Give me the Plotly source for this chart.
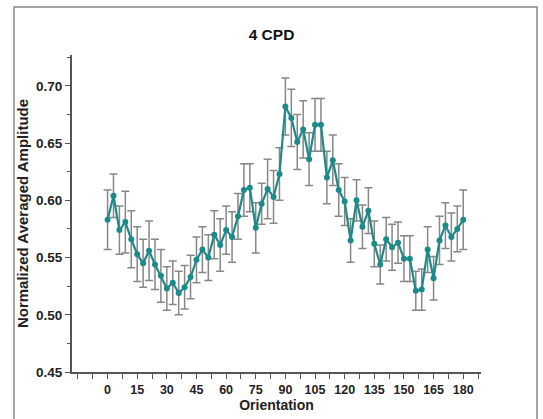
import plotly.graph_objects as go

orientation = [0, 3, 6, 9, 12, 15, 18, 21, 24, 27, 30, 33, 36, 39, 42, 45, 48, 51, 54, 57,
               60, 63, 66, 69, 72, 75, 78, 81, 84, 87, 90, 93, 96, 99, 102, 105, 108, 111,
               114, 117, 120, 123, 126, 129, 132, 135, 138, 141, 144, 147, 150, 153, 156,
               159, 162, 165, 168, 171, 174, 177, 180]

amplitude = [0.583, 0.604, 0.574, 0.581, 0.566, 0.553, 0.545, 0.556, 0.544, 0.534,
             0.523, 0.528, 0.519, 0.524, 0.533, 0.548, 0.557, 0.550, 0.570, 0.561,
             0.574, 0.568, 0.586, 0.609, 0.611, 0.576, 0.597, 0.610, 0.603, 0.623,
             0.682, 0.672, 0.651, 0.662, 0.636, 0.666, 0.666, 0.620, 0.635, 0.609,
             0.599, 0.565, 0.600, 0.577, 0.591, 0.562, 0.544, 0.566, 0.559, 0.563,
             0.549, 0.549, 0.521, 0.522, 0.557, 0.532, 0.565, 0.578, 0.568, 0.575,
             0.583]

error = [0.026, 0.019, 0.021, 0.027, 0.025, 0.024, 0.021, 0.026, 0.022, 0.023,
         0.019, 0.019, 0.019, 0.019, 0.019, 0.020, 0.020, 0.020, 0.021, 0.023,
         0.021, 0.022, 0.020, 0.023, 0.021, 0.022, 0.018, 0.026, 0.023, 0.023,
         0.025, 0.025, 0.024, 0.025, 0.023, 0.023, 0.023, 0.023, 0.022, 0.023,
         0.021, 0.019, 0.018, 0.019, 0.020, 0.020, 0.017, 0.019, 0.020, 0.018,
         0.020, 0.020, 0.017, 0.018, 0.020, 0.019, 0.021, 0.020, 0.021, 0.020,
         0.026]

x_ticks = [0, 15, 30, 45, 60, 75, 90, 105, 120, 135, 150, 165, 180]
x_minor = [-15, -7.5, 7.5, 22.5, 37.5, 52.5, 67.5, 82.5, 97.5, 112.5, 127.5, 142.5,
           157.5, 172.5, 187.5]
y_ticks = [0.45, 0.50, 0.55, 0.60, 0.65, 0.70]
y_labels = ["0.45", "0.50", "0.55", "0.60", "0.65", "0.70"]
y_minor = [0.475, 0.525, 0.575, 0.625, 0.675, 0.725]

teal = "#1d8a8a"
font = "Liberation Sans, Arial, sans-serif"

fig = go.Figure()
fig.add_trace(go.Scatter(
    x=orientation, y=amplitude, mode="markers",
    marker=dict(size=1, color="rgba(0,0,0,0)"),
    error_y=dict(type="data", array=error, visible=True, color="#878787",
                 thickness=1.5, width=4),
    hoverinfo="skip", showlegend=False))
fig.add_trace(go.Scatter(
    x=orientation, y=amplitude, mode="lines+markers",
    line=dict(color=teal, width=2.2),
    marker=dict(color=teal, size=6),
    showlegend=False))

fig.update_layout(
    width=543, height=419,
    margin=dict(l=72, r=62, t=55, b=47),
    paper_bgcolor="white", plot_bgcolor="white",
    title=dict(text="<b>4 CPD</b>", x=0.5, xanchor="center", y=0.918, yanchor="middle",
               xref="container", yref="container",
               font=dict(family=font, size=15.5, color="#111"), automargin=False),
    font=dict(family=font, color="#222"),
    xaxis=dict(range=[-18, 189], tickmode="array", tickvals=x_ticks,
               ticktext=[f"<b>{v}</b>" for v in x_ticks],
               showline=True, linecolor="#555", linewidth=2, mirror=False,
               ticks="outside", ticklen=5, tickwidth=1.2, tickcolor="#555",
               minor=dict(tickmode="array", tickvals=x_minor, ticks="outside",
                          ticklen=5, tickwidth=1.2, tickcolor="#555", showgrid=False),
               showgrid=False, zeroline=False, automargin=False,
               tickfont=dict(size=12.5, color="#222"),
               title=dict(text="<b>Orientation</b>", font=dict(size=14, color="#222"),
                          standoff=2)),
    yaxis=dict(range=[0.45, 0.727], tickmode="array", tickvals=y_ticks,
               ticktext=[f"<b>{t}</b>" for t in y_labels],
               showline=True, linecolor="#555", linewidth=2,
               ticks="outside", ticklen=5, tickwidth=1.2, tickcolor="#555",
               minor=dict(tickmode="array", tickvals=y_minor, ticks="outside",
                          ticklen=3, tickwidth=1.2, tickcolor="#555", showgrid=False),
               showgrid=False, zeroline=False, automargin=False,
               tickfont=dict(size=13.5, color="#222"),
               title=dict(text="<b>Normalized Averaged Amplitude</b>",
                          font=dict(size=15, color="#222"), standoff=4)),
    shapes=[dict(type="rect", xref="paper", yref="paper",
                 x0=(14 - 72) / 409, x1=(537 - 72) / 409,
                 y0=(372 - 430) / 317, y1=1 + (372 - 7 - 317) / 317,
                 line=dict(color="#888", width=1.5), fillcolor="rgba(0,0,0,0)",
                 layer="below")],
)

fig.write_html("out.html", config={"displayModeBar": False},
               post_script="document.body.style.margin='0';document.body.style.overflow='hidden';")
